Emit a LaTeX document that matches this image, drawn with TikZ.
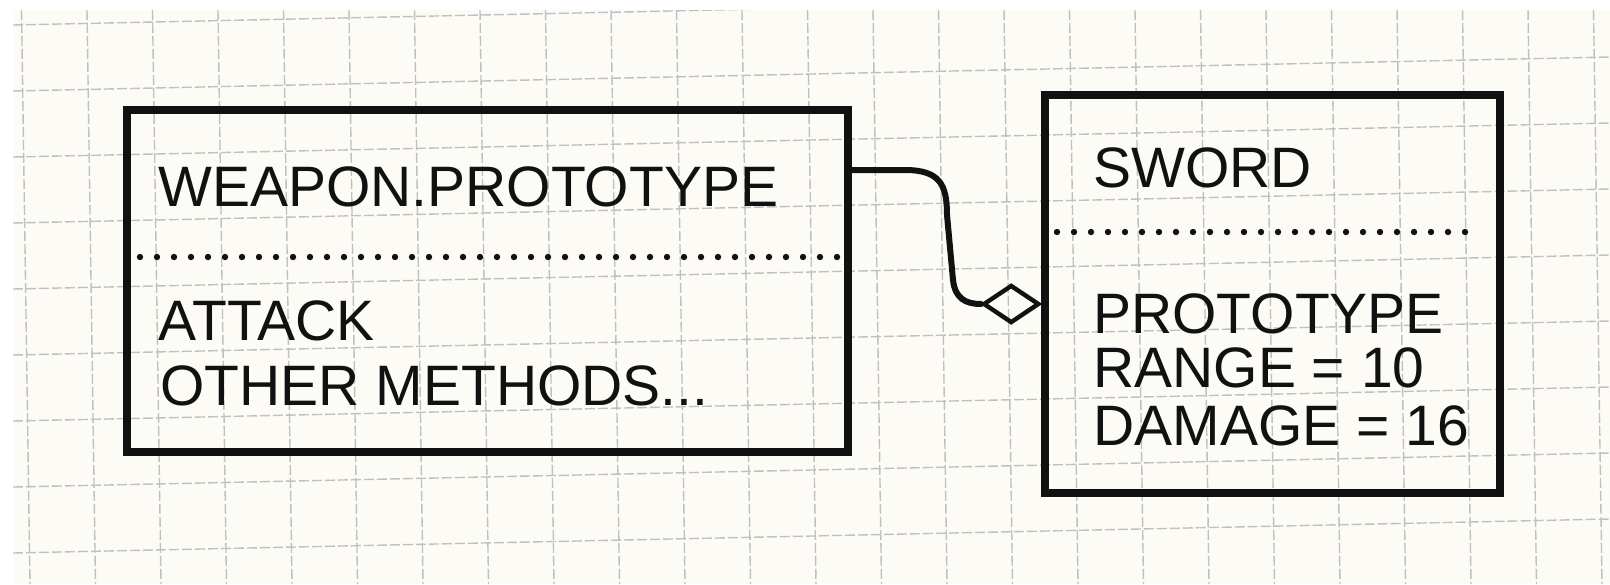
\documentclass[tikz,border=0pt]{standalone}
\usepackage{fontspec}
\setmainfont{Liberation Sans}
\usetikzlibrary{positioning,shapes.geometric}
\definecolor{papercol}{RGB}{252,251,246}
\definecolor{gridcol}{RGB}{192,192,192}
\definecolor{inkcol}{RGB}{17,17,17}

\begin{document}
\begin{tikzpicture}[
    x=0.5pt, y=-0.5pt,
    classbox/.style={rectangle, draw=inkcol, line width=3.6pt, inner sep=0pt},
    lettering/.style={anchor=base west, inner sep=0pt, text=inkcol, font=\fontsize{28.5}{34}\selectfont},
    dots/.style={draw=inkcol, line width=3.2pt, line cap=round, dash pattern=on 0pt off 8.5pt},
    gridline/.style={gridcol, line width=0.7pt, dash pattern=on 5pt off 1.5pt},
    link/.style={draw=inkcol, line width=3pt, line cap=round},
]
\useasboundingbox (0,0) rectangle (1610,584);
\fill[white] (0,0) rectangle (1610,584);
\fill[papercol] (13,10) rectangle (1610,584);
\begin{scope}
\clip (13,10) rectangle (1610,584);
\foreach \k in {0,...,8} {
    \draw[gridline] (13,{25+66*\k}) -- (1610,{25+66*\k-34});
}
\foreach \j in {0,...,24} {
    \draw[gridline] ({21.5+65.5*\j},10) -- ({30+65.5*\j},584);
}
\end{scope}

\node[classbox, minimum width=360.5pt, minimum height=171pt] (weapon) at (487.5,281) {};
\node[classbox, minimum width=227.5pt, minimum height=199pt] (sword) at (1272.5,294) {};

\node[lettering] (wpname) at (158,206) {WEAPON.PROTOTYPE};
\draw[dots] (140,257) -- (838,257);
\node[lettering] (attack) at (158,340) {ATTACK};
\node[lettering] (other) at (160,405) {OTHER METHODS...};

\node[lettering] (swname) at (1093,187) {SWORD};
\draw[dots] (1057,232) -- (1480,232);
\node[lettering] (proto) at (1093,333) {PROTOTYPE};
\node[lettering] (range) at (1093,387) {RANGE = 10};
\node[lettering] (damage) at (1093,445) {DAMAGE = 16};

\node[diamond, draw=inkcol, line width=2.2pt, minimum width=28pt, minimum height=19pt, inner sep=0pt, anchor=east] (agg) at (sword.west |- 0,304) {};
\draw[link] (weapon.east |- 0,170) -- (905,170) .. controls (940,170) and (947,185) .. (947,215) -- (953,280) .. controls (955,298) and (965,304) .. (agg.west);
\end{tikzpicture}
\end{document}
